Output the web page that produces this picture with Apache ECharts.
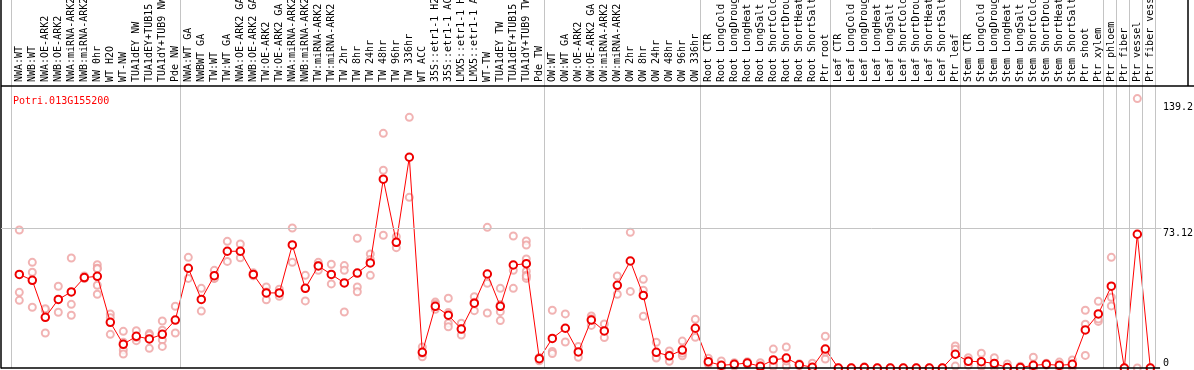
<!DOCTYPE html>
<html>
<head>
<meta charset="utf-8">
<script src="https://cdn.jsdelivr.net/npm/echarts@6/dist/echarts.min.js"></script>
<style>
  html, body { margin: 0; padding: 0; background: #fff; }
  #show_picture { width: 1194px; height: 370px; }
</style>
</head>
<body>
<div id="show_picture"></div>
<script>
const geneName = 'Potri.013G155200';

const categories = [
    'NWA:WT', 'NWB:WT', 'NWA:OE-ARK2', 'NWB:OE-ARK2', 'NWA:miRNA-ARK2', 'NWB:miRNA-ARK2',
    'NW 0hr', 'WT H2O', 'WT-NW', 'TUA1dEY NW', 'TUA1dEY+TUB15 NW', 'TUA1dY+TUB9 NW', 'Pde NW',
    'NWA:WT GA', 'NWBWT GA', 'TW:WT', 'TW:WT GA', 'NWA:OE-ARK2 GA', 'NWB:OE-ARK2 GA',
    'TW:OE-ARK2', 'TW:OE-ARK2 GA', 'NWA:miRNA-ARK2 GA', 'NWB:miRNA-ARK2 GA', 'TW:miRNA-ARK2',
    'TW:miRNA-ARK2 GA', 'TW 2hr', 'TW 8hr', 'TW 24hr', 'TW 48hr', 'TW 96hr', 'TW 336hr',
    'WT ACC', '35S::etr1-1 H2O', '35S::etr1-1 ACC', 'LMX5::etr1-1 H2O', 'LMX5::etr1-1 ACC',
    'WT-TW', 'TUA1dEY TW', 'TUA1dEY+TUB15 TW', 'TUA1dY+TUB9 TW', 'Pde TW',
    'OW:WT', 'OW:WT GA', 'OW:OE-ARK2', 'OW:OE-ARK2 GA', 'OW:miRNA-ARK2', 'OW:miRNA-ARK2 GA',
    'OW 2hr', 'OW 8hr', 'OW 24hr', 'OW 48hr', 'OW 96hr', 'OW 336hr',
    'Root CTR', 'Root LongCold', 'Root LongDrought', 'Root LongHeat', 'Root LongSalt',
    'Root ShortCold', 'Root ShortDrought', 'Root ShortHeat', 'Root ShortSalt', 'Ptr root',
    'Leaf CTR', 'Leaf LongCold', 'Leaf LongDrought', 'Leaf LongHeat', 'Leaf LongSalt',
    'Leaf ShortCold', 'Leaf ShortDrought', 'Leaf ShortHeat', 'Leaf ShortSalt', 'Ptr leaf',
    'Stem CTR', 'Stem LongCold', 'Stem LongDrought', 'Stem LongHeat', 'Stem LongSalt',
    'Stem ShortCold', 'Stem ShortDrought', 'Stem ShortHeat', 'Stem ShortSalt',
    'Ptr shoot', 'Ptr xylem', 'Ptr phloem', 'Ptr fiber', 'Ptr vessel', 'Ptr fiber vessel'
];

// mean expression per sample
const means = [
    49.0, 45.9, 26.5, 35.9, 39.8, 47.3, 48.0, 23.9, 12.4, 16.6, 15.2, 17.6, 25.1,
    52.2, 35.9, 48.3, 61.1, 61.1, 49.0, 39.3, 39.3, 64.4, 41.7, 53.4, 49.0,
    44.5, 49.7, 55.0, 98.8, 65.8, 110.3, 8.2, 32.3, 27.6, 20.4, 33.9,
    49.2, 32.3, 53.9, 54.6, 4.9,
    15.5, 20.8, 8.4, 25.1, 19.4, 43.3, 56.0, 38.0, 8.2, 6.4, 9.4, 20.8,
    3.3, 1.4, 1.9, 2.6, 0.9, 4.2, 5.2, 1.7, 0.4, 9.9,
    0, 0, 0.2, 0, 0, 0, 0, 0, 0, 7.2,
    3.5, 3.3, 2.4, 0.2, 0.2, 1.4, 1.9, 1.4, 1.9,
    19.9, 28.3, 42.8, 0, 70.0, 0
];

// individual replicates per sample
const replicates = [
    [72.2, 39.6, 35.4], [55.3, 50.1, 31.8], [30.2, 18.3, 31.0], [42.8, 29.2], [57.6, 33.3, 27.6],
    [48.2, 46.9, 47.0], [54.1, 52.2, 43.3, 38.6, 52.0], [28.3, 26.3, 17.6], [19.2, 9.4, 7.3, 13.5],
    [19.5, 14.3, 16.0], [18.0, 10.3, 17.3], [24.6, 14.7, 11.3, 19.8], [32.3, 18.3],
    [57.9, 46.9], [41.7, 29.8], [51.1, 46.9, 47.0], [66.3, 55.8], [64.9, 57.7], [49.8, 48.3],
    [42.4, 35.7, 39.8], [41.2, 37.5], [73.3, 55.3], [48.5, 35.1], [55.3, 51.1, 53.8], [54.3, 44.0],
    [53.6, 51.1, 29.3], [67.9, 42.4, 39.9], [59.7, 48.5, 56.8], [122.8, 103.5, 69.5],
    [68.7, 63.0, 65.7], [131.2, 89.3], [11.0, 5.9, 7.7], [34.5, 33.5, 30.7],
    [36.5, 23.4, 21.6, 29.0], [23.4, 17.3, 20.5], [37.3, 30.0, 34.4],
    [73.6, 44.3, 28.8], [41.7, 29.5, 24.8, 33.2], [69.1, 51.1, 41.7],
    [66.5, 64.4, 57.1, 50.7, 48.5, 46.9, 48.0], [5.5, 3.8, 5.3],
    [30.2, 8.7, 7.6], [28.3, 13.6], [11.2, 5.6], [27.2, 22.3, 25.8], [23.0, 15.9], [48.2, 38.6],
    [71.0, 40.1], [46.4, 40.7, 27.1], [13.5, 5.9, 5.2], [8.9, 3.5, 6.8], [14.1, 6.4, 7.7], [25.5, 16.1],
    [5.1, 2.1, 2.7], [3.7, 0.3, 0.2], [2.8, 1.0, 1.9], [3.3, 1.9, 2.6], [2.8, 0, 0],
    [9.9, 1.9, 0.8], [11.0, 0.9, 3.7], [2.2, 1.2], [2.5, 0, 0], [16.6, 4.7, 8.4],
    [0, 0], [0, 0], [0.6, 0], [0, 0], [0, 0], [0, 0], [0, 0], [0, 0], [0, 0], [11.5, 9.8, 1.0],
    [5.4, 1.4, 3.7], [7.7, 0.8, 1.4], [5.4, 0.3, 1.5], [2.1, 0, 0], [0.9, 0, 0],
    [5.6, 0.3, 0], [2.5, 1.5], [3.1, 0.2, 1.0], [4.2, 0.2, 1.4],
    [30.2, 22.9, 6.6], [34.9, 24.4, 25.6], [57.9, 37.0, 32.5], [0, 0], [141.0, 0], [0, 0]
];

const yTickLabels = [73.12, 139.2];
const yZeroLabel = [0];

// group separators (between samples)
const groupBreaks = [-0.62, 12.38, 40.38, 52.4, 62.38, 72.38, 83.38, 84.38, 85.38, 86.38, 87.38];

const xMin = -1.408, xMax = 90.36;
const yMin = 0, yMax = 192.6;
const headerY = 147.6;
const plotEndX = 87.75;
const headerEndX = 89.9;
const font = 'DejaVu Sans Mono';

let show_picture = document.getElementById('show_picture');
let myChart = echarts.init(show_picture);

let repData = [];
replicates.forEach((arr, i) => {
    for (let v of arr) repData.push([i, v]);
});
let meanData = means.map((v, i) => [i, v]);

const grayLine = { color: '#c4c4c4', width: 1, type: 'solid' };
const blackLine = { color: '#000', width: 1.5, type: 'solid' };

let option = {
    animation: false,
    backgroundColor: '#fff',
    title: {
        text: geneName,
        left: 8,
        top: 91,
        textStyle: { color: '#ff0000', fontFamily: font, fontSize: 10, fontWeight: 'normal' }
    },
    grid: { left: 1, right: 0, top: 0, bottom: 2, containLabel: false, outerBoundsMode: 'none' },
    xAxis: [
        { type: 'value', min: xMin, max: xMax, show: false },
        {
            type: 'value', min: xMin, max: xMax, position: 'top', offset: -86,
            axisLine: { show: false }, axisTick: { show: false }, splitLine: { show: false },
            axisLabel: {
                customValues: categories.map((_, i) => i),
                formatter: v => categories[v],
                rotate: 90, margin: 4,
                color: '#000', fontFamily: font, fontSize: 10
            }
        }
    ],
    yAxis: [
        {
            type: 'value', min: yMin, max: yMax, position: 'right', offset: -33,
            axisLine: { show: false }, axisTick: { show: false }, splitLine: { show: false },
            axisLabel: {
                customValues: yTickLabels, formatter: v => String(v),
                verticalAlign: 'top', margin: 2, color: '#000', fontFamily: font, fontSize: 10
            }
        },
        {
            type: 'value', min: yMin, max: yMax, position: 'right', offset: -33,
            axisLine: { show: false }, axisTick: { show: false }, splitLine: { show: false },
            axisLabel: {
                customValues: yZeroLabel, formatter: v => String(v),
                verticalAlign: 'bottom', margin: 2, color: '#000', fontFamily: font, fontSize: 10
            }
        },
        {
            type: 'value', min: yMin, max: yMax, position: 'left',
            axisLine: { show: true, lineStyle: blackLine }, axisTick: { show: false },
            splitLine: { show: false }, axisLabel: { show: false }
        }
    ],
    series: [
        {
            type: 'scatter',
            data: repData,
            symbol: 'emptyCircle',
            symbolSize: 7,
            itemStyle: { color: '#eda0a0', borderWidth: 1 },
            z: 2,
            markLine: {
                silent: true,
                symbol: ['none', 'none'],
                label: { show: false },
                lineStyle: grayLine,
                data: groupBreaks.map(x => ({ xAxis: x }))
                    .concat([[{ coord: [xMin, 73.12] }, { coord: [plotEndX + 0.1, 73.12] }]])
            }
        },
        {
            type: 'line',
            data: meanData,
            symbol: 'emptyCircle',
            symbolSize: 7.5,
            lineStyle: { color: '#ff0000', width: 1 },
            itemStyle: { color: '#ee0000', borderWidth: 1.2 },
            z: 3,
            markLine: {
                silent: true,
                symbol: ['none', 'none'],
                label: { show: false },
                lineStyle: blackLine,
                data: [
                    { yAxis: headerY },
                    [{ coord: [xMin, 0] }, { coord: [plotEndX, 0] }],
                    [{ coord: [headerEndX, headerY] }, { coord: [headerEndX, yMax] }]
                ]
            }
        }
    ]
};

option && myChart.setOption(option);
</script>
</body>
</html>
